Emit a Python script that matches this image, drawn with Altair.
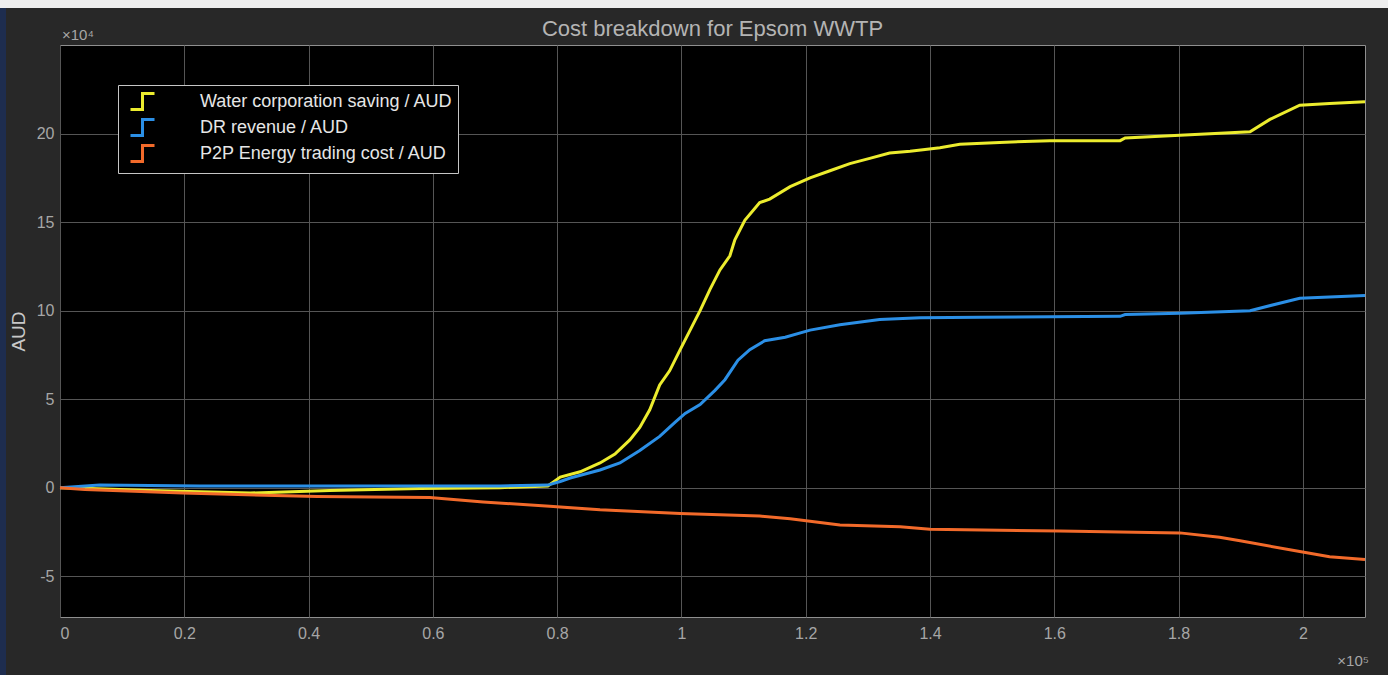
import altair as alt
import pandas as pd

# Cumulative cost components over the simulation horizon (x: time step, y: AUD)
water_x = [0, 4800, 14500, 30600, 43400, 57900, 70800, 78500, 80500, 83700, 86900,
           89300, 91700, 93300, 94900, 96500, 98100, 99800, 101400, 103000, 104600,
           106200, 107800, 108600, 110200, 112600, 114200, 117500, 120700, 123900,
           127100, 130300, 133500, 136800, 141600, 144800, 151200, 159300, 170600,
           171400, 180200, 191500, 194700, 199500, 204300, 210000]
water_y = [0, -500, -1500, -3000, -1500, -500, 0, 1000, 6000, 9000, 14000,
           19000, 27000, 34000, 44000, 58000, 66000, 78000, 89000, 100000, 112000,
           123000, 131000, 140000, 151000, 161000, 163000, 170000, 175000, 179000,
           183000, 186000, 189000, 190000, 192000, 194000, 195000, 196000, 196000,
           197500, 199000, 201000, 208000, 216000, 217000, 218000]

dr_x = [0, 6400, 22500, 38600, 54700, 70800, 78500, 80500, 82100, 86900, 90100,
        93300, 96500, 99000, 100600, 103000, 105400, 107000, 109100, 111000, 113400,
        116700, 120700, 125500, 131900, 138400, 148000, 159300, 170600, 171400,
        180200, 191500, 199500, 210000]
dr_y = [0, 1500, 1000, 1000, 1000, 1000, 1500, 3500, 5500, 10000, 14000,
        21000, 29000, 37000, 42000, 47000, 55000, 61000, 72000, 78000, 83000,
        85000, 89000, 92000, 95000, 96000, 96200, 96500, 96800, 97800,
        98500, 100000, 107000, 108500]

p2p_x = [0, 4000, 19800, 41400, 59500, 68100, 78800, 86900, 99800, 112600, 117500,
         125500, 135200, 140000, 151200, 160900, 180200, 186600, 189900, 199500,
         204300, 210000]
p2p_y = [0, -1000, -3000, -5000, -5500, -8000, -10500, -12500, -14500, -16000, -17500,
         -21000, -22000, -23500, -24000, -24500, -25500, -28000, -30000, -36000,
         -39000, -40500]

SERIES = ["Water corporation saving / AUD", "DR revenue / AUD",
          "P2P Energy trading cost / AUD"]
COLORS = ["#ecec2e", "#2b8fe6", "#f26a2a"]

x_ticks = list(range(0, 200001, 20000))
y_ticks = list(range(-50000, 200001, 50000))

rows = []
for name, xs, ys in zip(SERIES, [water_x, dr_x, p2p_x], [water_y, dr_y, p2p_y]):
    for xv, yv in zip(xs, ys):
        rows.append({"series": name, "step": xv, "aud": yv})
df = pd.DataFrame(rows)

FONT = "Liberation Sans"
W, H = 1305, 572

lines = alt.Chart(df).mark_line(strokeWidth=3).encode(
    x=alt.X("step:Q",
            scale=alt.Scale(domain=[0, 210000], nice=False, zero=False),
            axis=alt.Axis(values=x_ticks, labelExpr="datum.value / 100000",
                          title=None, labelPadding=8)),
    y=alt.Y("aud:Q",
            scale=alt.Scale(domain=[-73000, 250000], nice=False),
            axis=alt.Axis(values=y_ticks, labelExpr="datum.value / 10000",
                          title="AUD", titleX=-42, titleY=H / 2,
                          titleBaseline="middle", titleAngle=270,
                          titleColor="#c8c8c8", titleFontSize=19,
                          titleFontWeight="normal", titleFont=FONT,
                          labelPadding=6)),
    color=alt.Color("series:N",
                    scale=alt.Scale(domain=SERIES, range=COLORS),
                    legend=alt.Legend(
                        title=None, orient="none", legendX=58, legendY=40,
                        fillColor="black", strokeColor="#c6c6c6",
                        padding=5, rowPadding=-6.5,
                        symbolType="M -0.4 0.8 H 0.8 V -0.8 H 2.0",
                        symbolSize=400, symbolStrokeWidth=3,
                        symbolFillColor="transparent",
                        labelFont=FONT, labelFontSize=18, labelColor="#e6e6e6",
                        labelOffset=54, labelLimit=400)),
)

one = pd.DataFrame({"k": [0]})

title = alt.Chart(one).mark_text(align="center", baseline="middle", fontSize=22,
                                 font=FONT, color="#b4b4b4").encode(
    x=alt.value(W / 2), y=alt.value(-16),
    text=alt.value("Cost breakdown for Epsom WWTP"))
exp_y = alt.Chart(one).mark_text(align="left", baseline="middle", fontSize=15,
                                 font=FONT, color="#a6a6a6").encode(
    x=alt.value(2), y=alt.value(-10), text=alt.value("×10⁴"))
exp_x = alt.Chart(one).mark_text(align="right", baseline="middle", fontSize=15,
                                 font=FONT, color="#a6a6a6").encode(
    x=alt.value(W + 4), y=alt.value(616), text=alt.value("×10⁵"))

# window frame: light strip along the top, dark blue edge on the left
top_strip = alt.Chart(one).mark_rect(color="#eeeeee").encode(
    x=alt.value(-60), x2=alt.value(W + 23), y=alt.value(-45), y2=alt.value(-37))
left_strip = alt.Chart(one).mark_rect(color="#1e2d4f").encode(
    x=alt.value(-60), x2=alt.value(-54), y=alt.value(-37), y2=alt.value(H + 58))

chart = alt.layer(top_strip, left_strip, lines, title, exp_y, exp_x).properties(
    width=W, height=H,
    autosize=alt.AutoSizeParams(type="none"),
    padding={"left": 60, "top": 45, "right": 23, "bottom": 58},
    background="#282828",
).configure_view(
    fill="black", stroke="#8f8f8f", strokeWidth=1,
).configure_axis(
    gridColor="#555555", gridWidth=1, domain=False, ticks=False,
    labelColor="#a6a6a6", labelFont=FONT, labelFontSize=16,
)

chart.save("out.html", embed_options={"renderer": "svg", "actions": False})
